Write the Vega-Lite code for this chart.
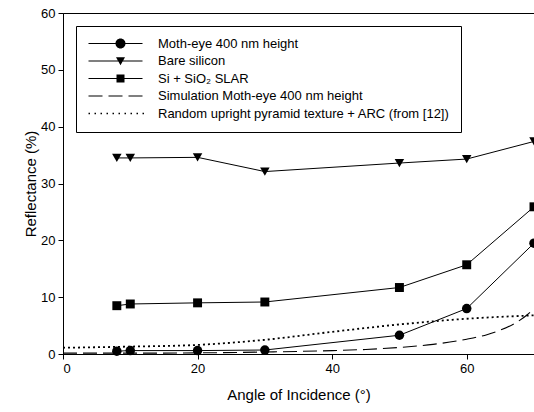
{
  "$schema": "https://vega.github.io/schema/vega-lite/v6.json",
  "width": 471,
  "height": 341,
  "autosize": "none",
  "padding": {"left": 63, "top": 13, "right": 0, "bottom": 58},
  "background": "white",
  "config": {
    "font": "Liberation Sans",
    "view": {"stroke": "black", "strokeWidth": 1},
    "axis": {
      "grid": false,
      "domainColor": "black",
      "tickColor": "black",
      "labelColor": "black",
      "titleColor": "black",
      "labelFont": "Liberation Sans",
      "titleFont": "Liberation Sans",
      "labelFontSize": 13,
      "titleFontSize": 15,
      "titleFontWeight": "normal",
      "tickSize": 5
    },
    "legend": {
      "labelFont": "Liberation Sans",
      "labelFontSize": 13,
      "labelColor": "black",
      "labelLimit": 400,
      "symbolStrokeWidth": 0
    }
  },
  "data": {
    "values": [
      {"s": "Moth-eye 400 nm height", "k": "m", "x": 8, "y": 0.5},
      {"s": "Moth-eye 400 nm height", "k": "m", "x": 10, "y": 0.6},
      {"s": "Moth-eye 400 nm height", "k": "m", "x": 20, "y": 0.6},
      {"s": "Moth-eye 400 nm height", "k": "m", "x": 30, "y": 0.7},
      {"s": "Moth-eye 400 nm height", "k": "m", "x": 50, "y": 3.3},
      {"s": "Moth-eye 400 nm height", "k": "m", "x": 60, "y": 8.0},
      {"s": "Moth-eye 400 nm height", "k": "m", "x": 70, "y": 19.5},
      {"s": "Bare silicon", "k": "m", "x": 8, "y": 34.5},
      {"s": "Bare silicon", "k": "m", "x": 10, "y": 34.5},
      {"s": "Bare silicon", "k": "m", "x": 20, "y": 34.6},
      {"s": "Bare silicon", "k": "m", "x": 30, "y": 32.1},
      {"s": "Bare silicon", "k": "m", "x": 50, "y": 33.6},
      {"s": "Bare silicon", "k": "m", "x": 60, "y": 34.3},
      {"s": "Bare silicon", "k": "m", "x": 70, "y": 37.4},
      {"s": "Si + SiO₂ SLAR", "k": "m", "x": 8, "y": 8.5},
      {"s": "Si + SiO₂ SLAR", "k": "m", "x": 10, "y": 8.8},
      {"s": "Si + SiO₂ SLAR", "k": "m", "x": 20, "y": 9.0},
      {"s": "Si + SiO₂ SLAR", "k": "m", "x": 30, "y": 9.15},
      {"s": "Si + SiO₂ SLAR", "k": "m", "x": 50, "y": 11.7},
      {"s": "Si + SiO₂ SLAR", "k": "m", "x": 60, "y": 15.7},
      {"s": "Si + SiO₂ SLAR", "k": "m", "x": 70, "y": 25.9},
      {"s": "Simulation Moth-eye 400 nm height", "k": "sim", "x": 0, "y": 0.15},
      {"s": "Simulation Moth-eye 400 nm height", "k": "sim", "x": 10, "y": 0.15},
      {"s": "Simulation Moth-eye 400 nm height", "k": "sim", "x": 20, "y": 0.2},
      {"s": "Simulation Moth-eye 400 nm height", "k": "sim", "x": 30, "y": 0.35},
      {"s": "Simulation Moth-eye 400 nm height", "k": "sim", "x": 40, "y": 0.6},
      {"s": "Simulation Moth-eye 400 nm height", "k": "sim", "x": 45, "y": 0.8},
      {"s": "Simulation Moth-eye 400 nm height", "k": "sim", "x": 50, "y": 1.15},
      {"s": "Simulation Moth-eye 400 nm height", "k": "sim", "x": 55, "y": 1.7},
      {"s": "Simulation Moth-eye 400 nm height", "k": "sim", "x": 60, "y": 2.6},
      {"s": "Simulation Moth-eye 400 nm height", "k": "sim", "x": 63, "y": 3.4},
      {"s": "Simulation Moth-eye 400 nm height", "k": "sim", "x": 65, "y": 4.2},
      {"s": "Simulation Moth-eye 400 nm height", "k": "sim", "x": 67, "y": 5.3},
      {"s": "Simulation Moth-eye 400 nm height", "k": "sim", "x": 69, "y": 6.9},
      {"s": "Simulation Moth-eye 400 nm height", "k": "sim", "x": 70, "y": 8.0},
      {"s": "Random upright pyramid texture + ARC (from [12])", "k": "rnd", "x": 0, "y": 1.1},
      {"s": "Random upright pyramid texture + ARC (from [12])", "k": "rnd", "x": 10, "y": 1.3},
      {"s": "Random upright pyramid texture + ARC (from [12])", "k": "rnd", "x": 20, "y": 1.6},
      {"s": "Random upright pyramid texture + ARC (from [12])", "k": "rnd", "x": 30, "y": 2.5},
      {"s": "Random upright pyramid texture + ARC (from [12])", "k": "rnd", "x": 40, "y": 3.9},
      {"s": "Random upright pyramid texture + ARC (from [12])", "k": "rnd", "x": 50, "y": 5.2},
      {"s": "Random upright pyramid texture + ARC (from [12])", "k": "rnd", "x": 60, "y": 6.2},
      {"s": "Random upright pyramid texture + ARC (from [12])", "k": "rnd", "x": 70, "y": 6.8}
    ]
  },
  "encoding": {
    "x": {
      "field": "x", "type": "quantitative",
      "scale": {"domain": [0, 70], "nice": false},
      "axis": {"values": [0, 20, 40, 60], "title": "Angle of Incidence (°)", "labelPadding": 3, "titlePadding": 12}
    },
    "y": {
      "field": "y", "type": "quantitative",
      "scale": {"domain": [0, 60], "nice": false},
      "axis": {"values": [0, 10, 20, 30, 40, 50, 60], "title": "Reflectance (%)", "labelPadding": 3, "titlePadding": 2}
    }
  },
  "layer": [
    {
      "transform": [{"filter": "datum.k === 'm'"}],
      "mark": {"type": "line", "color": "black", "strokeWidth": 1, "clip": false},
      "encoding": {"detail": {"field": "s", "type": "nominal"}}
    },
    {
      "transform": [{"filter": "datum.k === 'sim'"}],
      "mark": {"type": "line", "color": "black", "strokeWidth": 1.1, "strokeDash": [14, 6], "interpolate": "monotone", "clip": false},
      "encoding": {}
    },
    {
      "transform": [{"filter": "datum.k === 'rnd'"}],
      "mark": {"type": "line", "color": "black", "strokeWidth": 1.8, "strokeDash": [2, 3], "interpolate": "monotone", "clip": false},
      "encoding": {}
    },
    {
      "transform": [{"filter": "datum.s === 'Moth-eye 400 nm height'"}],
      "mark": {"type": "point", "shape": "circle", "filled": true, "color": "black", "opacity": 1, "size": 90, "clip": false},
      "encoding": {}
    },
    {
      "transform": [{"filter": "datum.s === 'Bare silicon'"}],
      "mark": {"type": "point", "shape": "triangle-down", "filled": true, "color": "black", "opacity": 1, "size": 90, "clip": false},
      "encoding": {}
    },
    {
      "transform": [{"filter": "datum.s === 'Si + SiO₂ SLAR'"}],
      "mark": {"type": "point", "shape": "square", "filled": true, "color": "black", "opacity": 1, "size": 80, "clip": false},
      "encoding": {}
    },
    {
      "transform": [{"filter": "datum.k === 'none'"}],
      "mark": {"type": "point", "filled": true, "fill": "black", "opacity": 1, "size": 100},
      "encoding": {
        "shape": {
          "field": "s", "type": "nominal",
          "scale": {
            "domain": ["Moth-eye 400 nm height", "Bare silicon", "Si + SiO₂ SLAR", "Simulation Moth-eye 400 nm height", "Random upright pyramid texture + ARC (from [12])"],
            "range": [
              "M-1,-0.11H9.8V0.11H-1ZM6.4,0C6.4,0.5523,5.9523,1,5.4,1C4.8477,1,4.4,0.5523,4.4,0C4.4,-0.5523,4.8477,-1,5.4,-1C5.9523,-1,6.4,-0.5523,6.4,0Z",
              "M-1,-0.11H9.8V0.11H-1ZM4.5,-0.75L6.3,-0.75L5.4,0.85Z",
              "M-1,-0.11H9.8V0.11H-1ZM4.6,-0.8L6.2,-0.8L6.2,0.8L4.6,0.8Z",
              "M-1,-0.11H1.8V0.11H-1ZM3,-0.11H5.8V0.11H3ZM7,-0.11H9.8V0.11H7Z",
              "M-1,-0.15H-0.7V0.15H-1ZM0.2,-0.15H0.5V0.15H0.2ZM1.4,-0.15H1.7V0.15H1.4ZM2.6,-0.15H2.9V0.15H2.6ZM3.8,-0.15H4.1V0.15H3.8ZM5,-0.15H5.3V0.15H5ZM6.2,-0.15H6.5V0.15H6.2ZM7.4,-0.15H7.7V0.15H7.4ZM8.6,-0.15H8.9V0.15H8.6ZM9.8,-0.15H10.1V0.15H9.8Z"
            ]
          },
          "legend": {
            "title": null,
            "orient": "none",
            "legendX": 13,
            "legendY": 13,
            "strokeColor": "black",
            "padding": 11,
            "symbolSize": 100,
            "symbolFillColor": "black",
            "symbolOpacity": 1,
            "labelOffset": 58,
            "rowPadding": 3.5
          }
        }
      }
    }
  ]
}
